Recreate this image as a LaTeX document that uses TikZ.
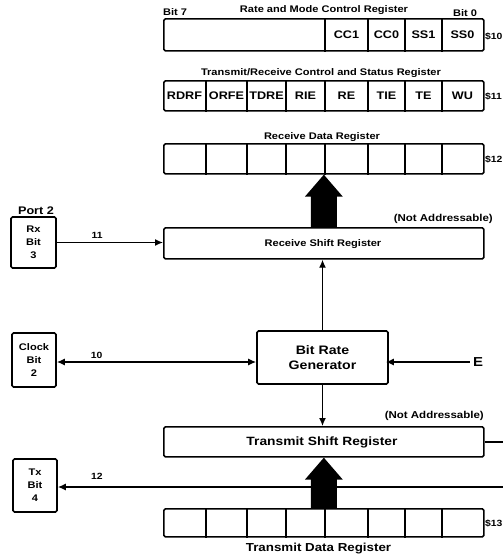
\documentclass[tikz,border=0pt]{standalone}
\usepackage{fontspec}
\setmainfont{Liberation Sans}[FakeStretch=1.15]
\usetikzlibrary{arrows.meta,calc}
\newcommand\BigUpArrow[2]{\fill let \p1=(#1), \p2=(#2) in (\x1-13pt,\y1) -- (\x1-13pt,\y2-22pt) -- (\x1-19pt,\y2-22pt) -- (\x1,\y2) -- (\x1+19pt,\y2-22pt) -- (\x1+13pt,\y2-22pt) -- (\x1+13pt,\y1) -- cycle;}
\newcommand\fsz[1]{\bfseries\fontsize{#1}{#1}\selectfont}
\newcommand\fszl[2]{\bfseries\fontsize{#1}{#2}\selectfont}
\begin{document}
\begin{tikzpicture}[x=1pt,y=-1pt,
  reg/.style={draw,line width=1.7pt,rounded corners=1.5pt,inner sep=0pt,anchor=north west,minimum width=320pt},
  div/.style={line width=1.3pt},
  box/.style={draw,line width=1.7pt,rounded corners=1.5pt,inner sep=0pt,align=center},
  conn/.style={line width=1.3pt},
  tip/.style={-{Latex[length=8pt,width=7pt]}},
  ttl/.style={font=\fsz{9.6},inner sep=0pt,anchor=base},
  cell/.style={font=\fsz{11},inner sep=0pt,anchor=base},
  addr/.style={font=\fsz{9},inner sep=0pt,anchor=base west},
  num/.style={font=\fsz{9},inner sep=0pt,anchor=base},
  small/.style={font=\fszl{9.6}{13}}
]
\useasboundingbox (0,0) rectangle (503,560);

% Rate and Mode Control Register
\node[reg,minimum height=32pt] (rmr) at (163,18) {};
\foreach \d in {162,205,242,279}
  \draw[div] ([xshift=\d pt]rmr.north west) -- ([xshift=\d pt]rmr.south west);
\node[ttl,anchor=base west] (bit7) at (163,15) {Bit 7};
\node[ttl] (rmrt) at (324,12.5) {Rate and Mode Control Register};
\node[ttl,anchor=base west] (bit0) at (453,16) {Bit 0};
\node[cell] (cc1) at (346.5,38) {CC1};
\node[cell] (cc0) at (386.5,38) {CC0};
\node[cell] (ss1) at (423.5,38) {SS1};
\node[cell] (ss0) at (462.5,38) {SS0};
\node[addr] (a10) at (485,39) {\$10};

% Transmit/Receive Control and Status Register
\node[reg,minimum height=30pt] (trcsr) at (163,80) {};
\foreach \d in {43,84,123,162,205,242,279}
  \draw[div] ([xshift=\d pt]trcsr.north west) -- ([xshift=\d pt]trcsr.south west);
\node[ttl] (trt) at (321,75.5) {Transmit/Receive Control and Status Register};
\node[cell] (rdrf) at (184.5,99) {RDRF};
\node[cell] (orfe) at (226.5,99) {ORFE};
\node[cell] (tdre) at (266.5,99) {TDRE};
\node[cell] (rie) at (305.5,99) {RIE};
\node[cell] (re) at (346.5,99) {RE};
\node[cell] (tie) at (386.5,99) {TIE};
\node[cell] (te) at (423.5,99) {TE};
\node[cell] (wu) at (462.5,99) {WU};
\node[addr] (a11) at (485,99) {\$11};

% Receive Data Register
\node[reg,minimum height=30pt] (rdr) at (163,143) {};
\foreach \d in {43,84,123,162,205,242,279}
  \draw[div] ([xshift=\d pt]rdr.north west) -- ([xshift=\d pt]rdr.south west);
\node[ttl] (rdrt) at (322,139) {Receive Data Register};
\node[addr] (a12) at (485,162) {\$12};

% Receive Shift Register
\node[reg,minimum height=31pt] (rsr) at (163,227) {};
\node[font=\fsz{9.6},inner sep=0pt,anchor=base] (rsrt) at (323,246) {Receive Shift Register};
\node[font=\fsz{10},inner sep=0pt,anchor=base east] (na1) at (493,221) {(Not Addressable)};
\BigUpArrow{rsr.north}{rdr.south}

% Port 2 Rx
\node[box,small,minimum width=45pt,minimum height=51pt] (rx) at (33.5,242.5) {Rx\\Bit\\3};
\node[font=\fsz{11},inner sep=0pt,anchor=base] (port2) at (36,214) {Port 2};
\draw[conn,tip] (rx.east) -- (rx.east -| rsr.west) node[num,pos=0.38,above=3pt] (n11) {11};

% Bit Rate Generator
\node[box,font=\fszl{12.3}{15},minimum width=131pt,minimum height=53pt] (brg) at (322.5,357.5) {Bit Rate\\Generator};
\node[box,small,minimum width=44pt,minimum height=54pt] (clk) at (34,360) {Clock\\Bit\\2};
\draw[conn,{Latex[length=8pt,width=7pt]}-{Latex[length=8pt,width=7pt]}] ([yshift=-2pt]clk.east) -- ([yshift=-2pt]clk.east -| brg.west) node[num,pos=0.2,above=3pt] (n10) {10};
\node[font=\fsz{13},inner sep=0pt] (E) at (478,362) {E};
\draw[conn,tip] ([xshift=-3pt]E.west) -- ([xshift=-3pt]E.west -| brg.east);
\draw[conn,tip] (brg.north) -- (brg.north |- rsr.south);

% Transmit Shift Register
\node[reg,minimum height=30pt] (tsr) at (163,426) {};
\node[font=\fsz{12},inner sep=0pt,anchor=base] (tsrt) at (322,445.5) {Transmit Shift Register};
\node[font=\fsz{10},inner sep=0pt,anchor=base east] (na2) at (484,418) {(Not Addressable)};
\draw[conn,tip] (brg.south) -- (brg.south |- tsr.north);
\coordinate (redge) at (510,441);
\draw[conn] (tsr.east) -- (tsr.east -| redge);

% Tx
\node[box,small,minimum width=44pt,minimum height=53pt] (tx) at (35,485.5) {Tx\\Bit\\4};
\coordinate (txend) at (510,487);
\draw[conn,tip] (txend) -- (txend -| tx.east);
\node[num] (n12) at (97,479) {12};

% Transmit Data Register
\node[reg,minimum height=28pt] (tdr) at (163,508) {};
\foreach \d in {43,84,123,162,205,242,279}
  \draw[div] ([xshift=\d pt]tdr.north west) -- ([xshift=\d pt]tdr.south west);
\node[addr] (a13) at (485,526) {\$13};
\node[font=\fsz{11.6},inner sep=0pt,anchor=base] (tdrt) at (318.5,551) {Transmit Data Register};
\BigUpArrow{tdr.north}{tsr.south}
\end{tikzpicture}
\end{document}
